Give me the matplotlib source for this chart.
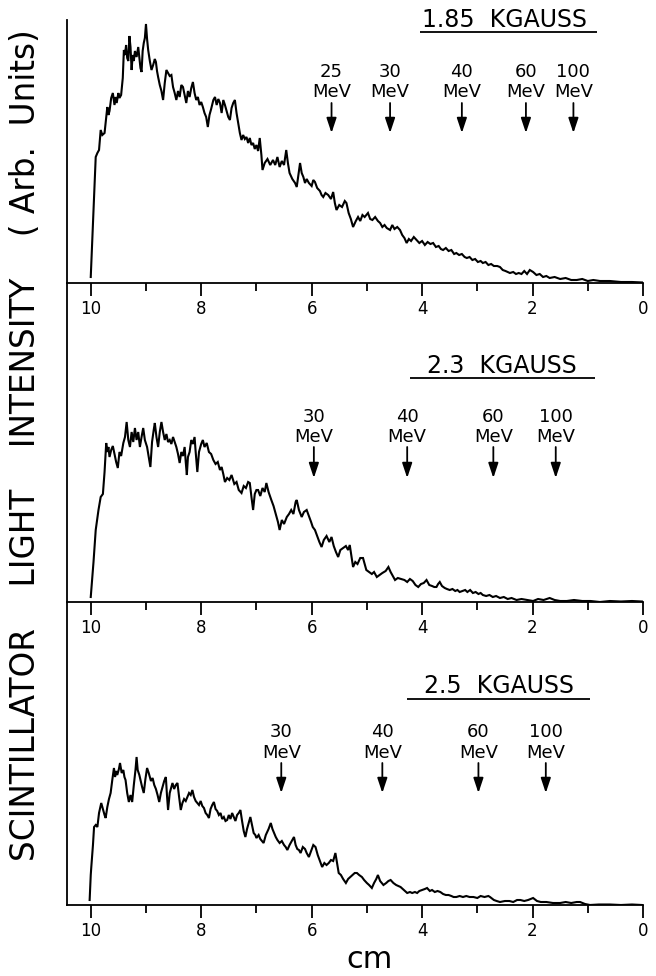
import matplotlib
matplotlib.use("Agg")
import matplotlib.pyplot as plt

# ---------------- data (cm, arbitrary intensity units) ----------------
x1 = [10.00, 9.91, 9.88, 9.85, 9.82, 9.79, 9.75, 9.72, 9.70, 9.68, 9.66, 9.63, 9.60, 9.57, 9.55, 9.53, 9.50, 9.48, 9.45, 9.42,
      9.40, 9.38, 9.36, 9.34, 9.32, 9.30, 9.28, 9.26, 9.24, 9.22, 9.20, 9.17, 9.14, 9.12, 9.10, 9.08, 9.06, 9.04, 9.02, 9.00,
      8.98, 8.96, 8.93, 8.90, 8.87, 8.84, 8.82, 8.80, 8.78, 8.75, 8.72, 8.69, 8.66, 8.63, 8.60, 8.57, 8.54, 8.51, 8.48, 8.45,
      8.42, 8.39, 8.36, 8.33, 8.30, 8.27, 8.24, 8.21, 8.18, 8.15, 8.12, 8.09, 8.06, 8.03, 8.00, 7.97, 7.94, 7.91, 7.88, 7.85,
      7.82, 7.78, 7.75, 7.72, 7.69, 7.66, 7.63, 7.60, 7.57, 7.54, 7.51, 7.48, 7.45, 7.42, 7.39, 7.36, 7.33, 7.30, 7.27, 7.24,
      7.21, 7.18, 7.15, 7.12, 7.09, 7.06, 7.03, 7.00, 6.97, 6.94, 6.91, 6.89, 6.85, 6.80, 6.75, 6.70, 6.66, 6.62, 6.58, 6.54,
      6.50, 6.46, 6.43, 6.40, 6.35, 6.30, 6.27, 6.24, 6.21, 6.18, 6.15, 6.12, 6.09, 6.05, 6.00, 5.97, 5.94, 5.90, 5.85, 5.82,
      5.79, 5.75, 5.70, 5.65, 5.61, 5.58, 5.55, 5.50, 5.45, 5.40, 5.37, 5.33, 5.29, 5.25, 5.20, 5.16, 5.12, 5.08, 5.04, 4.98,
      4.94, 4.90, 4.85, 4.80, 4.76, 4.72, 4.68, 4.64, 4.58, 4.54, 4.50, 4.45, 4.40, 4.36, 4.32, 4.28, 4.24, 4.20, 4.15, 4.10,
      4.05, 4.00, 3.95, 3.90, 3.85, 3.80, 3.75, 3.70, 3.66, 3.62, 3.57, 3.52, 3.47, 3.42, 3.38, 3.33, 3.28, 3.23, 3.19, 3.14,
      3.09, 3.04, 2.99, 2.94, 2.90, 2.85, 2.80, 2.75, 2.70, 2.64, 2.59, 2.54, 2.49, 2.45, 2.41, 2.35, 2.30, 2.25, 2.20, 2.15,
      2.10, 2.05, 1.99, 1.93, 1.87, 1.81, 1.75, 1.69, 1.60, 1.50, 1.40, 1.30, 1.20, 1.10, 1.00, 0.90, 0.78, 0.60, 0.40, 0.20,
      0.00]
y1 = [6, 126, 130, 133, 153, 148, 150, 165, 176, 168, 172, 185, 190, 178, 186, 180, 190, 185, 188, 205,
      233, 228, 238, 225, 222, 247, 236, 213, 228, 222, 232, 226, 236, 226, 215, 211, 232, 240, 245, 259,
      244, 233, 222, 213, 218, 224, 221, 212, 206, 198, 192, 183, 200, 213, 210, 207, 208, 196, 190, 183,
      192, 186, 198, 196, 188, 180, 192, 186, 195, 201, 190, 183, 186, 178, 181, 176, 170, 166, 156, 168,
      174, 183, 186, 178, 184, 180, 170, 183, 178, 172, 166, 163, 175, 180, 183, 170, 160, 150, 143, 148,
      144, 146, 140, 145, 138, 140, 134, 138, 132, 145, 128, 113, 120, 124, 118, 123, 118, 126, 116, 122,
      118, 133, 120, 110, 104, 100, 96, 108, 120, 110, 106, 100, 104, 100, 97, 103, 101, 95, 92, 88,
      86, 90, 88, 84, 91, 80, 73, 78, 76, 82, 80, 70, 64, 56, 62, 66, 62, 68, 66, 70,
      64, 63, 66, 62, 60, 56, 58, 55, 53, 58, 54, 56, 53, 48, 45, 40, 44, 42, 46, 43,
      40, 42, 38, 41, 39, 40, 36, 37, 34, 33, 35, 32, 33, 29, 30, 28, 29, 26, 25, 26,
      23, 24, 21, 22, 20, 21, 18, 19, 17, 17, 16, 13, 12, 11, 10, 11, 9, 10, 9, 12,
      9, 13, 11, 8, 9, 6, 7, 5, 6, 4, 5, 3, 3, 4, 2, 3, 2, 2, 1, 1,
      0.5]

x2 = [10.00, 9.95, 9.91, 9.86, 9.82, 9.78, 9.75, 9.72, 9.70, 9.68, 9.66, 9.63, 9.60, 9.57, 9.54, 9.51, 9.48, 9.45, 9.41, 9.38,
      9.35, 9.32, 9.29, 9.26, 9.23, 9.20, 9.17, 9.14, 9.11, 9.08, 9.05, 9.02, 8.98, 8.95, 8.92, 8.89, 8.86, 8.84, 8.81, 8.78,
      8.75, 8.72, 8.69, 8.66, 8.63, 8.60, 8.57, 8.54, 8.51, 8.48, 8.45, 8.42, 8.39, 8.36, 8.33, 8.30, 8.28, 8.26, 8.24, 8.21,
      8.18, 8.15, 8.12, 8.10, 8.07, 8.04, 8.00, 7.97, 7.94, 7.90, 7.86, 7.82, 7.78, 7.74, 7.70, 7.66, 7.63, 7.60, 7.57, 7.53,
      7.49, 7.45, 7.40, 7.36, 7.32, 7.27, 7.23, 7.19, 7.15, 7.12, 7.09, 7.06, 7.03, 7.00, 6.97, 6.93, 6.89, 6.85, 6.82, 6.78,
      6.73, 6.69, 6.65, 6.61, 6.58, 6.54, 6.50, 6.45, 6.41, 6.37, 6.33, 6.29, 6.27, 6.23, 6.18, 6.14, 6.09, 6.05, 6.01, 5.98,
      5.94, 5.90, 5.86, 5.82, 5.78, 5.73, 5.68, 5.64, 5.60, 5.56, 5.52, 5.48, 5.43, 5.38, 5.34, 5.31, 5.28, 5.25, 5.21, 5.17,
      5.12, 5.07, 5.04, 5.01, 4.96, 4.91, 4.87, 4.82, 4.77, 4.72, 4.66, 4.61, 4.57, 4.53, 4.49, 4.44, 4.38, 4.32, 4.27, 4.22,
      4.17, 4.12, 4.07, 4.02, 3.97, 3.92, 3.87, 3.82, 3.78, 3.74, 3.71, 3.68, 3.64, 3.59, 3.55, 3.50, 3.45, 3.40, 3.36, 3.32,
      3.27, 3.22, 3.18, 3.13, 3.08, 3.03, 2.98, 2.94, 2.90, 2.84, 2.78, 2.72, 2.66, 2.59, 2.52, 2.45, 2.38, 2.29, 2.20, 2.10,
      1.99, 1.90, 1.80, 1.69, 1.60, 1.50, 1.38, 1.25, 1.10, 0.95, 0.78, 0.60, 0.40, 0.20, 0.02]
y2 = [5, 40, 72, 92, 105, 108, 130, 159, 150, 155, 145, 152, 156, 148, 140, 134, 150, 146, 159, 165,
      180, 162, 155, 170, 160, 174, 162, 170, 155, 165, 174, 162, 155, 145, 135, 160, 172, 179, 165, 155,
      170, 180, 170, 162, 168, 160, 162, 158, 165, 160, 155, 148, 139, 150, 146, 155, 140, 127, 145, 150,
      162, 158, 165, 150, 130, 150, 158, 162, 155, 159, 150, 148, 142, 138, 140, 132, 135, 128, 120, 124,
      122, 127, 118, 120, 112, 109, 116, 114, 120, 119, 105, 92, 108, 112, 112, 106, 114, 110, 119, 110,
      102, 96, 88, 80, 72, 82, 78, 85, 88, 92, 88, 100, 102, 92, 85, 90, 92, 86, 80, 75,
      72, 66, 60, 55, 62, 66, 60, 65, 56, 50, 45, 52, 54, 56, 52, 57, 46, 35, 40, 38,
      44, 44, 38, 32, 30, 28, 30, 25, 27, 29, 31, 35, 30, 26, 22, 24, 23, 22, 20, 23,
      21, 17, 15, 18, 19, 22, 17, 16, 15, 15, 18, 20, 16, 14, 13, 12, 13, 11, 12, 10,
      11, 12, 10, 12, 9, 10, 8, 9, 7, 6, 7, 5, 6, 4, 5, 3, 4, 2, 3, 2,
      1, 3, 2, 4, 2, 1, 1, 2, 1, 1, 0, 1, 0.5, 1, 0.5]

x3 = [10.02, 10.00, 9.99, 9.96, 9.94, 9.91, 9.88, 9.85, 9.81, 9.78, 9.75, 9.73, 9.70, 9.67, 9.64, 9.61, 9.58, 9.56, 9.54, 9.52,
      9.49, 9.47, 9.44, 9.41, 9.39, 9.37, 9.34, 9.31, 9.28, 9.25, 9.22, 9.19, 9.17, 9.15, 9.12, 9.10, 9.07, 9.04, 9.01, 8.98,
      8.95, 8.91, 8.88, 8.85, 8.82, 8.79, 8.76, 8.73, 8.70, 8.67, 8.64, 8.62, 8.60, 8.57, 8.54, 8.52, 8.49, 8.46, 8.43, 8.40,
      8.37, 8.34, 8.31, 8.28, 8.25, 8.22, 8.19, 8.16, 8.13, 8.10, 8.07, 8.04, 8.01, 7.98, 7.95, 7.92, 7.89, 7.86, 7.83, 7.80,
      7.77, 7.74, 7.71, 7.68, 7.65, 7.62, 7.59, 7.56, 7.53, 7.50, 7.47, 7.44, 7.41, 7.38, 7.35, 7.32, 7.29, 7.26, 7.23, 7.20,
      7.17, 7.14, 7.11, 7.08, 7.05, 7.02, 7.00, 6.96, 6.93, 6.90, 6.87, 6.83, 6.78, 6.74, 6.71, 6.68, 6.65, 6.62, 6.58, 6.54,
      6.50, 6.47, 6.44, 6.40, 6.36, 6.32, 6.29, 6.26, 6.23, 6.20, 6.16, 6.12, 6.09, 6.05, 6.01, 5.97, 5.93, 5.89, 5.85, 5.81,
      5.77, 5.73, 5.69, 5.65, 5.61, 5.57, 5.54, 5.51, 5.47, 5.43, 5.38, 5.34, 5.30, 5.26, 5.22, 5.18, 5.14, 5.09, 5.05, 5.00,
      4.96, 4.91, 4.87, 4.83, 4.80, 4.76, 4.73, 4.70, 4.65, 4.61, 4.57, 4.52, 4.47, 4.43, 4.39, 4.35, 4.31, 4.27, 4.22, 4.18,
      4.13, 4.09, 4.05, 4.00, 3.95, 3.91, 3.86, 3.82, 3.77, 3.72, 3.67, 3.62, 3.57, 3.52, 3.47, 3.43, 3.38, 3.32, 3.26, 3.20,
      3.14, 3.07, 3.00, 2.94, 2.87, 2.80, 2.77, 2.70, 2.65, 2.59, 2.50, 2.42, 2.35, 2.28, 2.22, 2.15, 2.08, 1.99, 1.92, 1.85,
      1.75, 1.63, 1.50, 1.40, 1.30, 1.20, 1.14, 1.05, 0.96, 0.80, 0.60, 0.40, 0.20, 0.02]
y3 = [5, 30, 38, 60, 78, 80, 78, 92, 102, 96, 90, 87, 98, 106, 112, 125, 137, 128, 134, 130,
      136, 142, 132, 135, 128, 125, 112, 103, 110, 103, 120, 135, 148, 135, 130, 125, 118, 112, 126, 137,
      132, 124, 127, 120, 116, 110, 103, 112, 118, 124, 128, 110, 95, 112, 118, 122, 116, 120, 122, 108,
      95, 102, 106, 104, 108, 112, 110, 115, 108, 104, 102, 100, 104, 99, 97, 92, 90, 87, 96, 100,
      103, 96, 94, 90, 92, 86, 88, 84, 85, 90, 86, 92, 88, 84, 90, 92, 95, 84, 74, 68,
      76, 82, 88, 80, 72, 70, 67, 70, 66, 64, 62, 70, 76, 82, 76, 72, 68, 65, 62, 64,
      60, 58, 55, 60, 64, 68, 60, 56, 55, 52, 58, 56, 52, 48, 54, 60, 58, 50, 44, 38,
      42, 40, 42, 45, 44, 52, 42, 32, 30, 26, 22, 26, 28, 30, 32, 32, 30, 28, 25, 22,
      20, 17, 22, 26, 30, 24, 22, 20, 22, 24, 25, 22, 20, 19, 18, 16, 14, 12, 13, 12,
      13, 12, 14, 15, 16, 17, 14, 15, 13, 14, 13, 11, 10, 10, 9, 8, 8, 9, 8, 9,
      8, 8, 7, 9, 8, 9, 8, 5, 4, 3, 4, 4, 3, 5, 5, 4, 5, 7, 4, 3,
      3, 2, 2, 3, 2, 3, 3, 1, 0, 0.5, 0.5, 0, 0.5, 0]

xs = [x1, x2, x3]
ys = [y1, y2, y3]
fields = ["1.85  KGAUSS", "2.3  KGAUSS", "2.5  KGAUSS"]
ymax = [263, 319, 302]

arrow_pos = [[5.64, 4.58, 3.28, 2.12, 1.26],
             [5.96, 4.27, 2.71, 1.58],
             [6.55, 4.72, 2.98, 1.76]]
arrow_lab = [["25", "30", "40", "60", "100"],
             ["30", "40", "60", "100"],
             ["30", "40", "60", "100"]]
arrow_head = [150, 124, 112]
arrow_tail = [180, 155, 142]
lab_num_y = [206, 180, 168]
lab_mev_y = [186, 160, 147]

title_x = [2.5, 2.55, 2.6]
title_y = [256, 229, 212]
uline_y = [251, 224, 206]
uline_x0 = [4.04, 4.22, 4.27]
uline_x1 = [0.83, 0.87, 0.96]

major_ticks = [10, 8, 6, 4, 2, 0]
major_labels = ["10", "8", "6", "4", "2", "0"]
minor_ticks = [9, 7, 5, 3, 1]

# ---------------- figure ----------------
plt.rcParams['font.family'] = ['DejaVu Sans']
plt.rcParams['axes.linewidth'] = 1.3
W, H = 656, 976
fig = plt.figure(figsize=(W / 100, H / 100), dpi=100)
fig.patch.set_facecolor('white')

# axes boxes in pixel coords (top Y, bottom Y)
boxes = [(20, 283), (283, 602), (603, 905)]
left_px, right_px = 67, 643

for i in range(3):
    top, bot = boxes[i]
    ax = fig.add_axes([left_px / W, 1 - bot / H, (right_px - left_px) / W, (bot - top) / H])
    ax.set_xlim(10.43, 0)
    ax.set_ylim(0, ymax[i])
    ax.plot(xs[i], ys[i], color='black', lw=1.5, solid_joinstyle='miter')
    for s in ['top', 'right']:
        ax.spines[s].set_visible(False)
    ax.set_yticks([])
    ax.set_xticks(major_ticks)
    ax.set_xticklabels(major_labels)
    ax.set_xticks(minor_ticks, minor=True)
    ax.tick_params(axis='x', which='major', direction='out', length=9, width=1.3,
                   labelsize=12, pad=3)
    ax.tick_params(axis='x', which='minor', direction='out', length=6, width=1.3)
    ax.patch.set_alpha(0)

    # field title with underline
    ax.text(title_x[i], title_y[i], fields[i], ha='center', va='baseline', fontsize=17)
    ax.hlines(uline_y[i], uline_x0[i], uline_x1[i], color='black', lw=1.3)

    # energy markers
    for xp, lab in zip(arrow_pos[i], arrow_lab[i]):
        ax.annotate('', xy=(xp, arrow_head[i]), xytext=(xp, arrow_tail[i]),
                    arrowprops=dict(arrowstyle='-|>,head_length=0.9,head_width=0.3',
                                    color='black', lw=1.3, shrinkA=0, shrinkB=0))
        ax.text(xp, lab_num_y[i], lab, ha='center', va='baseline', fontsize=13)
        ax.text(xp, lab_mev_y[i], 'MeV', ha='center', va='baseline', fontsize=13)

fig.text(26 / W, 1 - 445 / H, "SCINTILLATOR    LIGHT    INTENSITY    ( Arb.  Units)",
         rotation=90, ha='center', va='center', fontsize=23.5)
fig.text(370 / W, 8 / H, "cm", ha='center', va='baseline', fontsize=22)

fig.savefig("out.png", dpi=100, facecolor='white')
